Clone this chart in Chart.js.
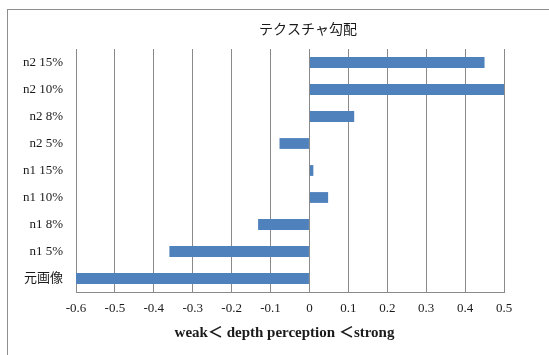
<!DOCTYPE html>
<html>
<head>
<meta charset="utf-8">
<script src="https://cdn.jsdelivr.net/npm/chart.js@4/dist/chart.umd.min.js"></script>
<style>
  html, body { margin: 0; padding: 0; background: #fff; width: 549px; height: 355px; overflow: hidden; }
  #frame {
    position: absolute; left: 7px; top: 9px;
    width: 600px; height: 360px;
    border-left: 1px solid #8e8e8e; border-top: 1px solid #8e8e8e;
    background: #fff;
  }
  #chart { display: block; }
</style>
</head>
<body>
<div id="frame"><canvas id="chart" width="600" height="360"></canvas></div>
<script>
// Categories, top to bottom
const categories = ['n2 15%', 'n2 10%', 'n2 8%', 'n2 5%', 'n1 15%', 'n1 10%', 'n1 8%', 'n1 5%', '元画像'];
// Depth perception score per condition
const values = [0.45, 0.5, 0.115, -0.077, 0.01, 0.048, -0.132, -0.36, -0.6];
// Value axis tick labels
const xTickLabels = ['-0.6', '-0.5', '-0.4', '-0.3', '-0.2', '-0.1', '0', '0.1', '0.2', '0.3', '0.4', '0.5'];

const chartTitle = 'テクスチャ勾配';
const axisTitle = 'weak＜ depth perception ＜strong';

const FONT = "'Liberation Serif', 'Noto Sans CJK JP', serif";
const GRID = '#8a8a8a';
const TEXT = '#1a1a1a';

// Chart title sits over the whole frame; the axis title sits under the value axis.
const titles = {
  id: 'titles',
  afterDraw(chart) {
    const ctx = chart.ctx;
    ctx.save();
    ctx.fillStyle = TEXT;
    ctx.textAlign = 'center';
    ctx.textBaseline = 'middle';
    ctx.font = `normal 14px ${FONT}`;
    ctx.fillText(chartTitle, chart.width / 2, 20);
    const xs = chart.scales.x;
    ctx.font = `bold 15px ${FONT}`;
    ctx.fillText(axisTitle, (xs.left + xs.right) / 2 - 5.5, xs.bottom - 22);
    ctx.restore();
  }
};

new Chart(document.getElementById('chart'), {
  type: 'bar',
  data: {
    labels: categories,
    datasets: [{
      data: values,
      backgroundColor: '#4f81bd',
      borderWidth: 0,
      barPercentage: 0.4,
      categoryPercentage: 1.0
    }]
  },
  options: {
    indexAxis: 'y',
    responsive: false,
    animation: false,
    devicePixelRatio: 1,
    layout: { padding: { left: 0, right: 104, top: 39, bottom: 15 } },
    plugins: {
      legend: { display: false },
      tooltip: { enabled: false },
      title: { display: false }
    },
    scales: {
      x: {
        type: 'linear',
        min: -0.6,
        max: 0.5,
        afterBuildTicks: (scale) => {
          scale.ticks = xTickLabels.map(t => ({ value: parseFloat(t) }));
        },
        afterFit: (scale) => { scale.height = 63; },
        ticks: {
          color: TEXT,
          font: { family: FONT, size: 13 },
          padding: 9,
          maxRotation: 0,
          autoSkip: false,
          callback: (v, i) => xTickLabels[i]
        },
        grid: { display: true, color: GRID, lineWidth: 1, drawTicks: false },
        border: { display: true, color: GRID, width: 1 }
      },
      y: {
        afterFit: (scale) => { scale.width = 68; },
        ticks: {
          color: TEXT,
          font: { family: FONT, size: 13 },
          padding: 13,
          autoSkip: false
        },
        grid: { display: false, drawTicks: false },
        border: { display: true, color: GRID, width: 1 }
      }
    }
  },
  plugins: [titles]
});
</script>
</body>
</html>
